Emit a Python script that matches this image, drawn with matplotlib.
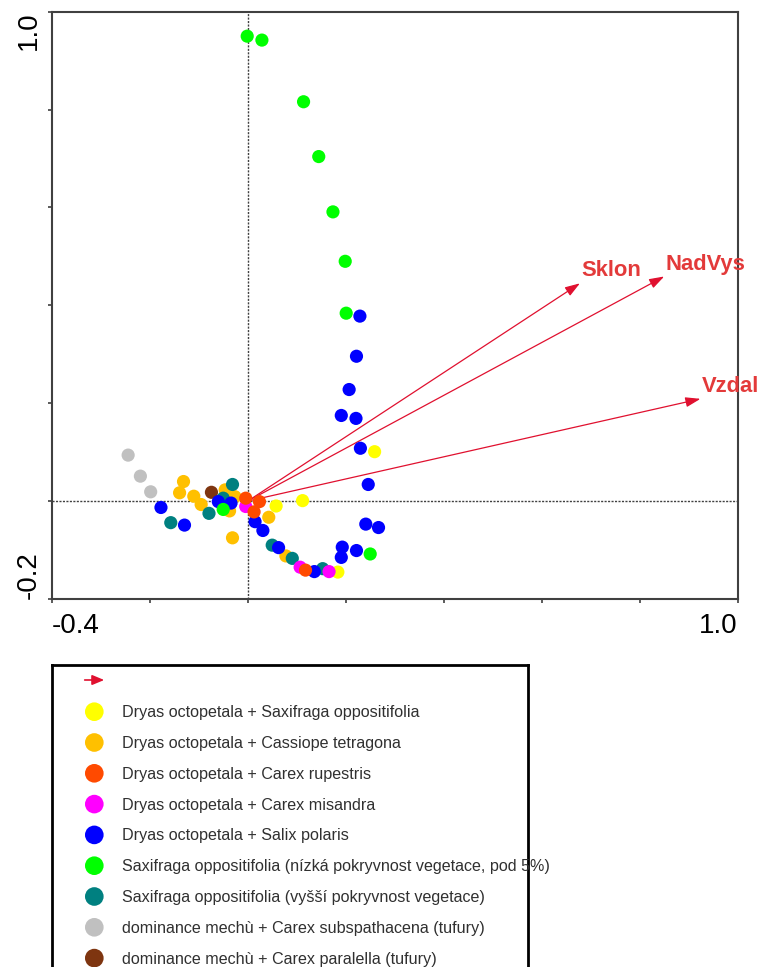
import numpy as np
import matplotlib.pyplot as plt

plt.rcParams['font.family'] = ['Liberation Sans', 'DejaVu Sans']

# skupiny vegetace (x = 1. osa, y = 2. osa)
yellow_x = [0.259, 0.112, 0.058, 0.184]
yellow_y = [0.101, 0.001, -0.010, -0.145]

orange_x = [-0.131, -0.139, -0.110, -0.095, -0.046, -0.026, -0.037, -0.031, 0.043, 0.078]
orange_y = [0.040, 0.017, 0.010, -0.007, 0.023, 0.009, -0.020, -0.075, -0.033, -0.112]

red_x = [-0.004, 0.024, 0.013, 0.118]
red_y = [0.006, -0.001, -0.022, -0.141]

magenta_x = [-0.004, 0.107, 0.166]
magenta_y = [-0.011, -0.135, -0.144]

blue_x = [0.229, 0.222, 0.207, 0.191, 0.221, 0.230, 0.246, 0.241, 0.267, 0.193,
          0.222, 0.191, 0.136, 0.063, 0.015, 0.031, -0.177, -0.129, -0.060, -0.034]
blue_y = [0.378, 0.296, 0.228, 0.175, 0.169, 0.108, 0.034, -0.047, -0.054, -0.094,
          -0.101, -0.115, -0.144, -0.095, -0.042, -0.060, -0.013, -0.049, -0.001, -0.004]

green_x = [-0.001, 0.029, 0.114, 0.145, 0.174, 0.199, 0.201, 0.250, -0.050]
green_y = [0.950, 0.942, 0.816, 0.704, 0.591, 0.490, 0.384, -0.108, -0.017]

teal_x = [-0.157, -0.079, -0.031, -0.050, 0.050, 0.091, 0.153]
teal_y = [-0.044, -0.025, 0.034, 0.006, -0.090, -0.117, -0.138]

gray_x = [-0.244, -0.219, -0.198]
gray_y = [0.094, 0.051, 0.019]

brown_x = [-0.074]
brown_y = [0.018]

# environmentalni promenne
env_names = ['Sklon', 'NadVys', 'Vzdal']
env_x = [0.678, 0.850, 0.924]
env_y = [0.445, 0.459, 0.209]

legend_labels = [
    'Dryas octopetala + Saxifraga oppositifolia',
    'Dryas octopetala + Cassiope tetragona',
    'Dryas octopetala + Carex rupestris',
    'Dryas octopetala + Carex misandra',
    'Dryas octopetala + Salix polaris',
    'Saxifraga oppositifolia (nízká pokryvnost vegetace, pod 5%)',
    'Saxifraga oppositifolia (vyšší pokryvnost vegetace)',
    'dominance mechù + Carex subspathacena (tufury)',
    'dominance mechù + Carex paralella (tufury)',
]
colors = ['#FFFF00', '#FFC000', '#FF4A00', '#FF00FF', '#0000FF',
          '#00FF00', '#008080', '#C0C0C0', '#7E3510']

ticks = [-0.4, -0.2, 0.0, 0.2, 0.4, 0.6, 0.8, 1.0]
xtick_labels = ['-0.4', '', '', '', '', '', '', '1.0']
yticks = [-0.2, 0.0, 0.2, 0.4, 0.6, 0.8, 1.0]
ytick_labels = ['-0.2', '', '', '', '', '', '1.0']

W, H = 763, 967
fig = plt.figure(figsize=(W / 100, H / 100), dpi=100)
ax = fig.add_axes([51.7 / W, 1 - 599 / H, 686 / W, 587.3 / H])

ax.set_xlim(-0.4, 1.0)
ax.set_ylim(-0.2, 1.0)

# nulove osy
ax.axhline(0, color='#404040', lw=1, ls=(0, (1.5, 1)), zorder=1)
ax.axvline(0, color='#404040', lw=1, ls=(0, (1.5, 1)), zorder=1)

# sipky
arrow_col = '#E0102F'
for name, ex, ey in zip(env_names, env_x, env_y):
    ax.annotate('', xy=(ex, ey), xytext=(0, 0),
                arrowprops=dict(arrowstyle='-|>,head_length=0.6,head_width=0.2',
                                color=arrow_col, lw=0.9, shrinkA=0, shrinkB=0,
                                mutation_scale=15), zorder=2)
    ax.annotate(name, xy=(ex, ey), xytext=(1, 5), textcoords='offset points',
                ha='left', va='baseline', fontsize=15.8, fontweight='bold',
                color='#E33A3A', zorder=5)

groups = [(gray_x, gray_y, colors[7]), (brown_x, brown_y, colors[8]),
          (yellow_x, yellow_y, colors[0]), (orange_x, orange_y, colors[1]),
          (teal_x, teal_y, colors[6]), (blue_x, blue_y, colors[4]),
          (green_x, green_y, colors[5]), (magenta_x, magenta_y, colors[3]),
          (red_x, red_y, colors[2])]
for gx, gy, c in groups:
    ax.scatter(gx, gy, s=90, color=c, edgecolors='none', zorder=3)

ax.set_xticks(ticks)
ax.set_xticklabels(xtick_labels, fontsize=20)
ax.set_yticks(yticks)
ax.set_yticklabels(ytick_labels, fontsize=20, rotation=90)
ax.tick_params(direction='out', length=3, width=1.2, color='#404040')
ax.tick_params(axis='x', pad=7)
ax.tick_params(axis='y', pad=4)
xl = ax.get_xticklabels()
xl[0].set_ha('left')
xl[-1].set_ha('right')
yl = ax.get_yticklabels()
yl[0].set_va('bottom')
yl[-1].set_va('top')
for s in ax.spines.values():
    s.set_color('#404040')
    s.set_linewidth(1.5)

# legenda
lax = fig.add_axes([51.7 / W, 0, 476 / W, 302 / H])
lax.set_xlim(0, 476)
lax.set_ylim(302, 0)
lax.set_xticks([])
lax.set_yticks([])
lax.spines['bottom'].set_visible(False)
for k in ['top', 'left', 'right']:
    lax.spines[k].set_linewidth(2)
    lax.spines[k].set_color('black')

lax.annotate('', xy=(52.5, 15), xytext=(33, 15),
             arrowprops=dict(arrowstyle='-|>,head_length=0.6,head_width=0.25',
                             color=arrow_col, lw=1.2, shrinkA=0, shrinkB=0,
                             mutation_scale=12))
for i, (lab, c) in enumerate(zip(legend_labels, colors)):
    yy = 46.7 + 30.8 * i
    lax.scatter([42.6], [yy], s=180, color=c, edgecolors='none', clip_on=False)
    lax.text(70.6, yy + 1, lab, fontsize=11.6, color='#303030', va='center', ha='left')

fig.savefig('out.png', dpi=100)
